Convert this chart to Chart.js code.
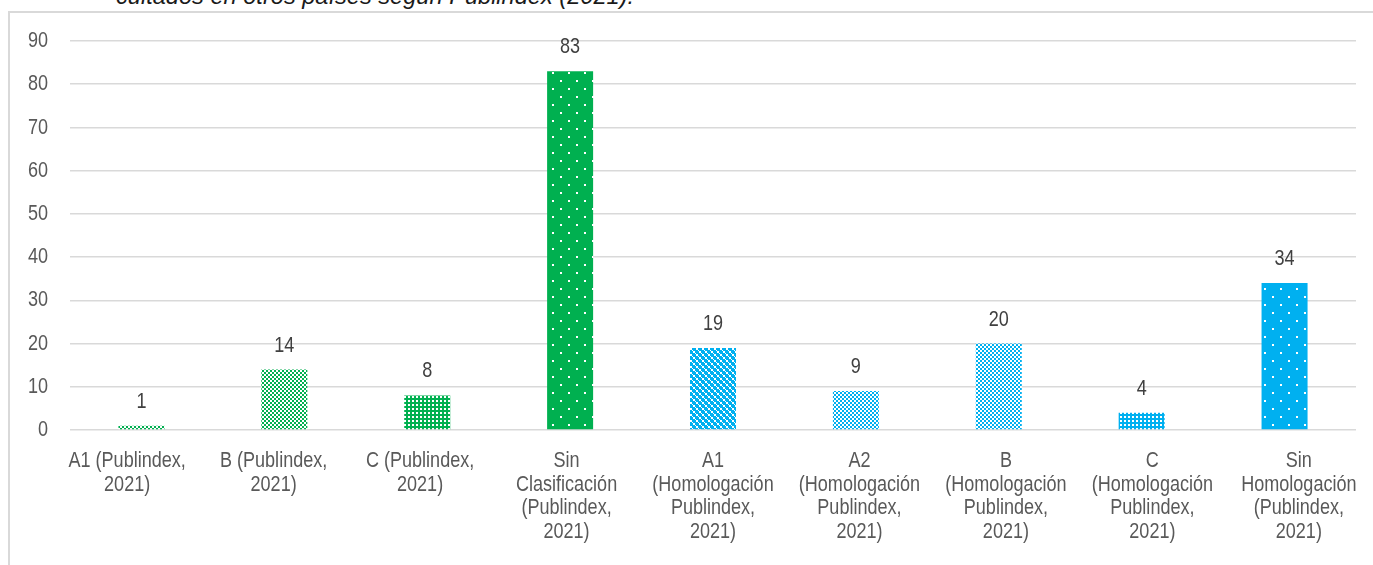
<!DOCTYPE html>
<html>
<head>
<meta charset="utf-8">
<script src="https://cdn.jsdelivr.net/npm/chart.js@4.4.1/dist/chart.umd.min.js"></script>
<style>
  html, body { margin: 0; padding: 0; background: #fff; overflow: hidden; }
  #wrap { position: relative; width: 1373px; height: 565px; }
  #frame { position: absolute; left: 8px; top: 11px; width: 1400px; height: 600px;
           border-left: 2px solid #d9d9d9; border-top: 2px solid #d9d9d9; box-sizing: border-box; }
  #caption { position: absolute; left: 116px; top: -16px; font: italic 23.6px "Liberation Sans", Arial, sans-serif;
             color: #1a1a1a; line-height: 24px; white-space: nowrap; }
  canvas { position: absolute; left: 0; top: 0; }
</style>
</head>
<body>
<div id="wrap">
  <div id="caption">cultados en otros países según Publindex (2021).</div>
  <div id="frame"></div>
  <canvas id="c" width="1373" height="565"></canvas>
</div>
<script>
const categories = [
  ["A1 (Publindex,", "2021)"],
  ["B (Publindex,", "2021)"],
  ["C (Publindex,", "2021)"],
  ["Sin", "Clasificación", "(Publindex,", "2021)"],
  ["A1", "(Homologación", "Publindex,", "2021)"],
  ["A2", "(Homologación", "Publindex,", "2021)"],
  ["B", "(Homologación", "Publindex,", "2021)"],
  ["C", "(Homologación", "Publindex,", "2021)"],
  ["Sin", "Homologación", "(Publindex,", "2021)"]
];
const values = [1, 14, 8, 83, 19, 9, 20, 4, 34];
const yMin = 0, yMax = 90, yStep = 10;

const GREEN = '#00B050';
const BLUE = '#00B0F0';
const FONT = '"Liberation Sans", Arial, sans-serif';
const SQUEEZE = 0.82;   // imitate a narrow face
const TEXT_SIZE = 22;

function tile(w, h, draw) {
  const c = document.createElement('canvas');
  c.width = w; c.height = h;
  const x = c.getContext('2d');
  draw(x);
  return document.getElementById('c').getContext('2d').createPattern(c, 'repeat');
}
function checker(color, cell) {
  return tile(cell * 2, cell * 2, x => {
    x.fillStyle = '#fff'; x.fillRect(0, 0, cell * 2, cell * 2);
    x.fillStyle = color; x.fillRect(0, 0, cell, cell); x.fillRect(cell, cell, cell, cell);
  });
}
function whiteGrid(color, period, sq) {
  return tile(period, period, x => {
    x.fillStyle = color; x.fillRect(0, 0, period, period);
    x.fillStyle = '#fff'; x.fillRect(0, 0, sq, sq);
  });
}
function sparseDots(color) {
  return tile(16, 16, x => {
    x.fillStyle = color; x.fillRect(0, 0, 16, 16);
    x.fillStyle = '#fff'; x.fillRect(0, 0, 2, 2); x.fillRect(8, 8, 2, 2);
  });
}
function diamond(color) {
  return tile(6, 6, x => {
    x.fillStyle = color; x.fillRect(0, 0, 6, 6);
    x.fillStyle = '#fff'; x.fillRect(0, 0, 2, 2); x.fillRect(3, 3, 2, 2);
    x.fillRect(2, 2, 1, 1); x.fillRect(5, 5, 1, 1);
  });
}

const fills = [
  checker(GREEN, 2),
  checker(GREEN, 2),
  whiteGrid(GREEN, 4, 2),
  sparseDots(GREEN),
  diamond(BLUE),
  checker(BLUE, 2),
  checker(BLUE, 2),
  whiteGrid(BLUE, 4, 2),
  sparseDots(BLUE)
];

function narrowText(ctx, text, x, y, align) {
  ctx.save();
  ctx.translate(x, y);
  ctx.scale(SQUEEZE, 1);
  ctx.textAlign = align;
  ctx.fillText(text, 0, 0);
  ctx.restore();
}

const textPlugin = {
  id: 'textPlugin',
  afterDatasetsDraw(chart) {
    const ctx = chart.ctx;
    const xs = chart.scales.x, ys = chart.scales.y;
    const area = chart.chartArea;
    ctx.save();
    ctx.textBaseline = 'middle';
    ctx.font = TEXT_SIZE + 'px ' + FONT;

    // data labels
    ctx.fillStyle = '#404040';
    chart.getDatasetMeta(0).data.forEach((bar, i) => {
      narrowText(ctx, String(chart.data.datasets[0].data[i]), bar.x, bar.y - 24, 'center');
    });

    // y tick labels
    ctx.fillStyle = '#595959';
    ys.ticks.forEach(t => {
      narrowText(ctx, String(t.value), area.left - 22, ys.getPixelForValue(t.value), 'right');
    });

    // x category labels
    const cx = (area.left + area.right) / 2;
    const lh = 23.6;
    chart.data.labels.forEach((lines, i) => {
      const px = cx + (xs.getPixelForValue(i) - cx) * 1.025;
      lines.forEach((ln, k) => {
        narrowText(ctx, ln, px, area.bottom + 31 + k * lh, 'center');
      });
    });
    ctx.restore();
  }
};

new Chart(document.getElementById('c'), {
  type: 'bar',
  data: {
    labels: categories,
    datasets: [{
      data: values,
      backgroundColor: fills,
      borderWidth: 0,
      barPercentage: 0.322,
      categoryPercentage: 1.0
    }]
  },
  options: {
    responsive: false,
    animation: false,
    devicePixelRatio: 1,
    layout: { padding: { left: 0, top: 41, right: 17, bottom: 0 } },
    plugins: { legend: { display: false }, tooltip: { enabled: false } },
    scales: {
      x: {
        grid: { display: false, drawTicks: false },
        border: { display: false },
        ticks: { display: false },
        afterFit(scale) { scale.height = 135; }
      },
      y: {
        min: yMin, max: yMax,
        grid: { color: '#d9d9d9', lineWidth: 1.5, drawTicks: false },
        border: { display: false },
        ticks: { display: false, stepSize: yStep },
        afterFit(scale) { scale.width = 70; }
      }
    }
  },
  plugins: [textPlugin]
});
</script>
</body>
</html>
